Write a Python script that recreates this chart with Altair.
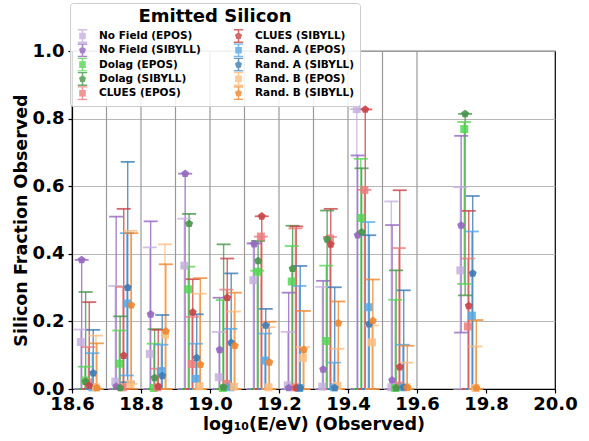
import altair as alt
import pandas as pd

# ---------------- data ----------------
centers = [18.65, 18.75, 18.85, 18.95, 19.05, 19.15, 19.25, 19.35, 19.45, 19.55, 19.75]
bin_edges = [18.7, 18.8, 18.9, 19.0, 19.1, 19.2, 19.3, 19.4, 19.5, 19.6]

models = ["No Field", "Dolag", "CLUES", "Rand. A", "Rand. B"]
model_offsets = [-0.023, -0.0115, -0.001, 0.0105, 0.021]
sim_offsets = {"EPOS": -0.0015, "SIBYLL": 0.001}

nf_epos_val = [0.139, 0.022, 0.104, 0.365, 0.035, 0.322, 0.011, 0.007, 0.828, 0.005, 0.351]
nf_epos_hi = [0.176, 0.305, 0.419, 0.504, 0.169, 0.430, 0.169, 0.302, 0.828, 0.555, 0.597]
nf_epos_lo = [0, 0, 0, 0, 0, 0, 0, 0, 0, 0, 0]

nf_sib_val = [0.382, 0.007, 0.221, 0.637, 0.116, 0.429, 0.003, 0.058, 0.455, 0.026, 0.484]
nf_sib_hi = [0.382, 0.510, 0.496, 0.637, 0.270, 0.431, 0.285, 0.320, 0.691, 0.485, 0.749]
nf_sib_lo = [0, 0, 0, 0, 0, 0, 0, 0, 0, 0, 0.167]

dolag_epos_val = [0.025, 0.075, 0.003, 0.295, 0.003, 0.347, 0.318, 0.142, 0.506, 0.003, 0.769]
dolag_epos_hi = [0.066, 0.173, 0.134, 0.362, 0.263, 0.350, 0.423, 0.365, 0.681, 0.264, 0.790]
dolag_epos_lo = [0, 0, 0, 0, 0, 0, 0, 0, 0, 0, 0.311]

dolag_sib_val = [0.022, 0.003, 0.033, 0.489, 0.005, 0.379, 0.356, 0.443, 0.464, 0.003, 0.814]
dolag_sib_hi = [0.287, 0.215, 0.177, 0.518, 0.428, 0.438, 0.483, 0.528, 0.653, 0.351, 0.814]
dolag_sib_lo = [0, 0, 0, 0, 0, 0, 0, 0, 0, 0, 0.277]

clues_epos_val = [0.020, 0.005, 0.005, 0.074, 0.015, 0.451, 0.005, 0.445, 0.589, 0.010, 0.185]
clues_epos_hi = [0.124, 0.302, 0.060, 0.213, 0.294, 0.451, 0.475, 0.450, 0.589, 0.417, 0.386]
clues_epos_lo = [0, 0, 0, 0, 0, 0, 0, 0, 0, 0, 0]

clues_sib_val = [0.010, 0.099, 0.007, 0.227, 0.270, 0.511, 0.003, 0.428, 0.827, 0.065, 0.246]
clues_sib_hi = [0.257, 0.533, 0.175, 0.325, 0.386, 0.511, 0.481, 0.533, 0.827, 0.588, 0.527]
clues_sib_lo = [0, 0, 0, 0, 0, 0, 0, 0, 0, 0, 0]

randa_epos_val = [0.005, 0.253, 0.053, 0.030, 0.005, 0.084, 0.003, 0.005, 0.242, 0.005, 0.217]
randa_epos_hi = [0.106, 0.461, 0.131, 0.134, 0.178, 0.164, 0.305, 0.078, 0.494, 0.131, 0.466]
randa_epos_lo = [0, 0.040, 0, 0, 0, 0, 0, 0, 0, 0, 0]

randa_sib_val = [0.047, 0.300, 0.039, 0.092, 0.137, 0.188, 0.003, 0.003, 0.192, 0.005, 0.342]
randa_sib_hi = [0.175, 0.672, 0.219, 0.221, 0.342, 0.237, 0.364, 0.301, 0.455, 0.292, 0.571]
randa_sib_lo = [0, 0.020, 0, 0, 0, 0, 0, 0, 0, 0, 0]

randb_epos_val = [0.005, 0.015, 0.161, 0.008, 0.007, 0.005, 0.092, 0.009, 0.138, 0.005, 0.003]
randb_epos_hi = [0.158, 0.468, 0.428, 0.282, 0.229, 0.183, 0.124, 0.119, 0.188, 0.078, 0.126]
randb_epos_lo = [0, 0.015, 0, 0, 0, 0, 0, 0, 0, 0, 0]

randb_sib_val = [0.003, 0.248, 0.171, 0.072, 0.128, 0.079, 0.116, 0.195, 0.202, 0.005, 0.003]
randb_sib_hi = [0.135, 0.461, 0.369, 0.328, 0.285, 0.199, 0.231, 0.259, 0.324, 0.128, 0.204]
randb_sib_lo = [0, 0, 0, 0, 0, 0, 0, 0, 0, 0, 0]

series_data = [
    ("No Field", "EPOS", nf_epos_val, nf_epos_lo, nf_epos_hi),
    ("No Field", "SIBYLL", nf_sib_val, nf_sib_lo, nf_sib_hi),
    ("Dolag", "EPOS", dolag_epos_val, dolag_epos_lo, dolag_epos_hi),
    ("Dolag", "SIBYLL", dolag_sib_val, dolag_sib_lo, dolag_sib_hi),
    ("CLUES", "EPOS", clues_epos_val, clues_epos_lo, clues_epos_hi),
    ("CLUES", "SIBYLL", clues_sib_val, clues_sib_lo, clues_sib_hi),
    ("Rand. A", "EPOS", randa_epos_val, randa_epos_lo, randa_epos_hi),
    ("Rand. A", "SIBYLL", randa_sib_val, randa_sib_lo, randa_sib_hi),
    ("Rand. B", "EPOS", randb_epos_val, randb_epos_lo, randb_epos_hi),
    ("Rand. B", "SIBYLL", randb_sib_val, randb_sib_lo, randb_sib_hi),
]

series_colors = {
    "No Field (EPOS)": "#c6b0de",
    "No Field (SIBYLL)": "#9466c0",
    "Dolag (EPOS)": "#55d655",
    "Dolag (SIBYLL)": "#45964a",
    "CLUES (EPOS)": "#ec7c7c",
    "CLUES (SIBYLL)": "#c94446",
    "Rand. A (EPOS)": "#55a8e6",
    "Rand. A (SIBYLL)": "#3b7bb2",
    "Rand. B (EPOS)": "#ffbd7e",
    "Rand. B (SIBYLL)": "#ee8630",
}

rows = []
for order, (model, sim, vals, los, his) in enumerate(series_data):
    name = f"{model} ({sim})"
    off = model_offsets[models.index(model)] + sim_offsets[sim]
    for c, v, lo, hi in zip(centers, vals, los, his):
        rows.append({"series": name, "sim": sim, "order": order,
                     "x": c + off, "val": v, "lo": lo, "hi": hi})
df = pd.DataFrame(rows)

legend_order = [f"{m} ({s})" for m, s, *_ in series_data]
color_range = [series_colors[n] for n in legend_order]

pent = "M0,-1L0.951,-0.309L0.588,0.809L-0.588,0.809L-0.951,-0.309Z"
glyph_sq = "M-0.75,-1H0.75M-0.75,1H0.75M0,-1V1M-0.4,-0.4H0.4V0.4H-0.4Z"
glyph_pt = ("M-0.75,-1H0.75M-0.75,1H0.75M0,-1V1"
            "M0,-0.44L0.42,-0.14L0.26,0.36L-0.26,0.36L-0.42,-0.14Z")
shape_range = [glyph_sq if "EPOS" in n else glyph_pt for n in legend_order]

FONT = "DejaVu Sans"
xscale = alt.Scale(domain=[18.6, 20.0], nice=False, zero=False)
yscale = alt.Scale(domain=[0, 1.0], nice=False)
cscale = alt.Scale(domain=legend_order, range=color_range)

legend = alt.Legend(
    title="Emitted Silicon", orient="none", legendX=-2, legendY=-48,
    columns=2, columnPadding=30, rowPadding=0.3, clipHeight=14,
    titleFont=FONT, titleFontSize=18, titleFontWeight="bold", titleColor="black",
    titleAnchor="middle", titlePadding=3,
    labelFont=FONT, labelFontSize=10.5, labelFontWeight="bold", labelColor="black",
    labelOffset=9, symbolSize=160, symbolStrokeWidth=1.5,
    fillColor="rgba(255,255,255,0.85)", strokeColor="#cccccc", cornerRadius=3,
    padding=5, symbolOpacity=0.8,
)

xenc = alt.X("x:Q", scale=xscale,
             axis=alt.Axis(title="log₁₀(E/eV) (Observed)",
                           values=[18.6, 18.8, 19.0, 19.2, 19.4, 19.6, 19.8, 20.0],
                           format=".1f", grid=False))
color = alt.Color("series:N", scale=cscale, legend=legend)

base = alt.Chart(df)

legend_layer = base.transform_filter("false").mark_point(filled=True, opacity=0.8).encode(
    x=xenc, y=alt.Y("val:Q", scale=yscale),
    color=color,
    shape=alt.Shape("series:N", scale=alt.Scale(domain=legend_order, range=shape_range), legend=legend),
)

bins = alt.Chart(pd.DataFrame({"edge": bin_edges})).mark_rule(
    color="#999999", strokeWidth=1.2).encode(x=alt.X("edge:Q", scale=xscale))

bars = base.mark_rule(strokeWidth=1.4, opacity=0.8).encode(
    x=xenc,
    y=alt.Y("lo:Q", scale=yscale,
            axis=alt.Axis(title="Silicon Fraction Observed",
                          values=[0, 0.2, 0.4, 0.6, 0.8, 1.0], format=".1f", grid=True)),
    y2="hi:Q", color=color, order="order:Q")

cap_hi = base.mark_tick(orient="horizontal", size=14, thickness=1.8, opacity=0.8).encode(
    x=xenc, y=alt.Y("hi:Q", scale=yscale), color=color, order="order:Q")
cap_lo = base.mark_tick(orient="horizontal", size=14, thickness=1.8, opacity=0.8).encode(
    x=xenc, y=alt.Y("lo:Q", scale=yscale), color=color, order="order:Q")

pts_epos = base.transform_filter("datum.sim == 'EPOS'").mark_square(
    size=64, opacity=0.85).encode(x=xenc, y=alt.Y("val:Q", scale=yscale), color=color)
pts_sib = base.transform_filter("datum.sim == 'SIBYLL'").mark_point(
    shape=pent, filled=True, size=70, opacity=0.9).encode(
    x=xenc, y=alt.Y("val:Q", scale=yscale), color=color)

chart = alt.layer(legend_layer, bins, bars, cap_hi, cap_lo, pts_epos, pts_sib).properties(
    width=483, height=338,
    autosize=alt.AutoSizeParams(type="none"),
    padding={"left": 72, "top": 51, "right": 34, "bottom": 52},
).configure_view(stroke="black", strokeWidth=1.2).configure_axis(
    labelFont=FONT, labelFontSize=18, labelFontWeight="bold", labelColor="black",
    titleFont=FONT, titleFontSize=17.5, titleFontWeight="bold", titleColor="black",
    domainColor="black", domainWidth=1.2, tickColor="black", tickSize=4, tickWidth=1.2,
    gridColor="#b0b0b0", gridWidth=0.9, labelFlush=False,
).configure_axisX(labelPadding=2, titlePadding=2).configure_axisY(
    labelPadding=4, titlePadding=2)

chart.save("out.html", embed_options={"renderer": "svg", "actions": False})
